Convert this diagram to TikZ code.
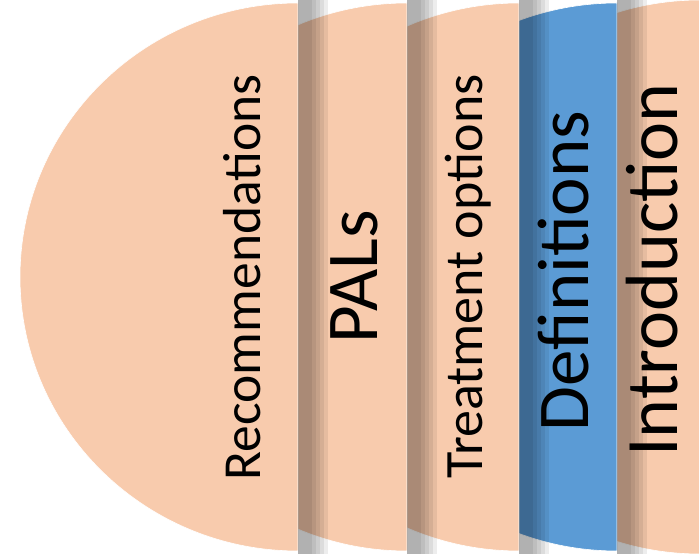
\documentclass[tikz,border=0pt]{standalone}
\usepackage{fontspec}
\setmainfont{Carlito}
\usetikzlibrary{positioning}
\definecolor{pFill}{HTML}{F8CBAD}
\definecolor{bFill}{HTML}{5B9BD5}
\tikzset{
    Strip/.style = {
        fill=#1, 
        draw=white, 
        line width=0.6pt
    },
    Strip/.default={pFill},
    Shade/.style = {fill=black, opacity=0.07},
    Label/.style = {
        rotate=90, 
        anchor=base, 
        inner sep=0pt, 
        font=\fontsize{#1}{#1}\selectfont
    }
}

\begin{document}
\begin{tikzpicture}[x=1pt, y=1pt]
    \useasboundingbox (0,0) rectangle (699,554);
    % half discs, right to left
    \foreach \cx/\ry/\col in {700/277/pFill, 617/274/bFill, 519/274/pFill, 407/274/pFill, 298/274/pFill}
        \draw [Strip=\col] (\cx,277+\ry) arc [start angle=90, end angle=270, x radius=278, y radius=\ry] -- cycle;
    % shadows
    \foreach \sx in {298, 407, 519, 617}
        \foreach \w in {14, 18, 22, 26, 30}
            \fill [Shade] (\sx,0) rectangle (\sx+\w,554);
    \node [Label=53.5] (Rec) at (260,276.5) {Recommendations};
    \node [Label=73] (PALs) at (377,277) {PALs};
    \node [Label=54] (Treat) at (482,277.5) {Treatment options};
    \node [Label=73] (Def) at (588,283) {Definitions};
    \node [Label=74] (Intro) at (677,284) {Introduction};
\end{tikzpicture}
\end{document}
